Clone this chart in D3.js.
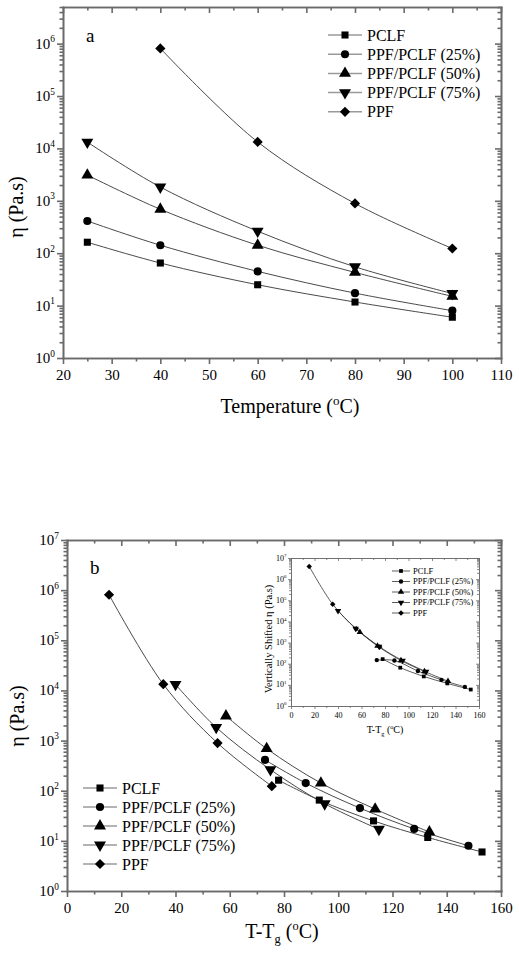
<!DOCTYPE html>
<html><head><meta charset="utf-8">
<script src="https://cdn.jsdelivr.net/npm/d3@7"></script>
<style>
body{margin:0;background:#fff}
svg{display:block}
svg text, svg tspan{font-family:"Times New Roman","Liberation Serif","DejaVu Serif",serif !important;fill:#000}
</style>
</head><body>
<svg id="chart" width="519" height="960" font-family="Liberation Serif"></svg>
<script>
// ---------------- data ----------------
const seriesNames = ["PCLF","PPF/PCLF (25%)","PPF/PCLF (50%)","PPF/PCLF (75%)","PPF"];
const markerTypes = ["square","circle","triangle","triangleDown","diamond"];

// panel a: viscosity vs temperature
const temperature    = [25,40,60,80,100];
const temperaturePPF = [40,60,80,100];
const etaPCLF = [162,65,25,11.7,6.0];
const eta25   = [412,142,45,17.3,8.0];
const eta50   = [3100,690,142,43,15];
const eta75   = [13200,1830,263,55,17];
const etaPPF  = [8.1e5,13300,890,123];

// panel b: viscosity vs T-Tg
const ttgPCLF = [78,93,113,133,153];
const ttg25   = [73,88,108,128,148];
const ttg50   = [58.6,73.6,93.6,113.6,133.6];
const ttg75   = [40,55,75,95,115];
const ttgPPF  = [15.5,35.5,55.5,75.5];

// inset: vertically shifted viscosity vs T-Tg
const shiftPCLF = [165,65,25,11.7,6.0];
const shift25   = [148,142,45,17.3,8.0];
const shift50   = [3100,690,142,43,15];
const shift75   = [32000,4600,650,140,42];
const shiftPPF  = [4.0e6,6.5e4,4.5e3,6.2e2];

// ticks
const tempMajor = [20,30,40,50,60,70,80,90,100,110];
const tempMinor = [25,35,45,55,65,75,85,95,105];
const ttgMajor  = [0,20,40,60,80,100,120,140,160];
const ttgMinor  = [10,30,50,70,90,110,130,150];
const expA = [0,1,2,3,4,5,6];
const expB = [0,1,2,3,4,5,6,7];

// ---------------- drawing ----------------
const FONT = "Liberation Serif";
const svg = d3.select("#chart");
const AX = "#6a6a6a";

function markerPath(type, size){
  if(type==="square") return d3.symbol(d3.symbolSquare, size)();
  if(type==="circle") return d3.symbol(d3.symbolCircle, size)();
  if(type==="diamond") return d3.symbol(d3.symbolSquare, size)();
  return d3.symbol(d3.symbolTriangle, size)();
}
function markerRot(type){
  if(type==="triangleDown") return " rotate(180)";
  if(type==="diamond") return " rotate(45)";
  return "";
}
const markerSizeMain = {square:50, circle:52, triangle:62, triangleDown:62, diamond:52};
const markerSizeInset = {square:14, circle:15, triangle:18, triangleDown:18, diamond:15};

function logMinors(maxExp, topVal){
  const out=[];
  for(let e=0;e<=maxExp;e++) for(let m=2;m<=9;m++){const v=m*Math.pow(10,e); if(v<=topVal) out.push(v);}
  return out;
}
function txt(sel){ return sel.append("text").attr("font-family",FONT).attr("fill","#000"); }

function panel(cfg){
  const g = svg.append("g");
  if(cfg.bg) g.append("rect").attr("x",cfg.left-cfg.bgPadL).attr("y",cfg.top-cfg.bgPadT)
      .attr("width",cfg.right-cfg.left+cfg.bgPadL+cfg.bgPadR).attr("height",cfg.bottom-cfg.top+cfg.bgPadT+cfg.bgPadB)
      .attr("fill","#fff");
  const x = d3.scaleLinear().domain(cfg.xDomain).range([cfg.left,cfg.right]);
  const y = d3.scaleLog().domain(cfg.yDomain).range([cfg.bottom,cfg.top]);
  const yMaj = cfg.exps.map(e=>Math.pow(10,e));
  const yMin = logMinors(cfg.exps[cfg.exps.length-1], cfg.yDomain[1]);

  const line = d3.line().x(d=>x(d[0])).y(d=>y(d[1])).curve(d3.curveCatmullRom.alpha(0.5));
  cfg.series.forEach(s=>{
    const pts = s.x.map((v,j)=>[v,s.y[j]]);
    g.append("path").attr("d",line(pts)).attr("fill","none")
      .attr("stroke",cfg.lineColor).attr("stroke-width",cfg.lineWidth);
  });
  cfg.series.forEach((s,i)=>{
    const t = markerTypes[i];
    g.selectAll(null).data(s.x.map((v,j)=>[v,s.y[j]])).enter().append("path")
      .attr("d",markerPath(t,cfg.msize[t]))
      .attr("transform",d=>`translate(${x(d[0])},${y(d[1])})${markerRot(t)}`)
      .attr("fill","#000");
  });

  const styleAx = sel=>{sel.attr("font-family",FONT);
    sel.selectAll(".domain").attr("stroke",AX).attr("stroke-width",cfg.axW);
    sel.selectAll(".tick line").attr("stroke",AX).attr("stroke-width",cfg.axW);};
  const gb = g.append("g").attr("transform",`translate(0,${cfg.bottom})`)
    .call(d3.axisBottom(x).tickValues(cfg.xMajor).tickSize(cfg.tick).tickSizeOuter(0).tickPadding(cfg.pad).tickFormat(d3.format("d")));
  gb.selectAll("text").attr("font-size",cfg.fs).attr("font-family",FONT).attr("fill","#000");
  styleAx(gb);
  styleAx(g.append("g").attr("transform",`translate(0,${cfg.bottom})`)
    .call(d3.axisBottom(x).tickValues(cfg.xMinor).tickSize(cfg.minor).tickSizeOuter(0).tickFormat("")));
  styleAx(g.append("g").attr("transform",`translate(0,${cfg.top})`)
    .call(d3.axisTop(x).tickValues(cfg.xMajor).tickSize(-cfg.tick).tickSizeOuter(0).tickFormat("")));
  styleAx(g.append("g").attr("transform",`translate(0,${cfg.top})`)
    .call(d3.axisTop(x).tickValues(cfg.xMinor).tickSize(-cfg.minor).tickSizeOuter(0).tickFormat("")));
  styleAx(g.append("g").attr("transform",`translate(${cfg.left},0)`)
    .call(d3.axisLeft(y).tickValues(yMaj).tickSize(cfg.tick).tickSizeOuter(0).tickFormat("")));
  styleAx(g.append("g").attr("transform",`translate(${cfg.left},0)`)
    .call(d3.axisLeft(y).tickValues(yMin).tickSize(cfg.minor).tickSizeOuter(0).tickFormat("")));
  styleAx(g.append("g").attr("transform",`translate(${cfg.right},0)`)
    .call(d3.axisRight(y).tickValues(yMaj).tickSize(-cfg.tick).tickSizeOuter(0).tickFormat("")));
  styleAx(g.append("g").attr("transform",`translate(${cfg.right},0)`)
    .call(d3.axisRight(y).tickValues(yMin).tickSize(-cfg.minor).tickSizeOuter(0).tickFormat("")));
  g.selectAll(".domain").attr("stroke-linecap","square");

  cfg.exps.forEach(e=>{
    const t = txt(g).attr("x",cfg.left-cfg.tick-cfg.ypad).attr("y",y(Math.pow(10,e))+cfg.fs*0.33)
      .attr("text-anchor","end").attr("font-size",cfg.fs);
    t.append("tspan").text("10");
    t.append("tspan").attr("font-size",cfg.fs*0.62).attr("dy",-cfg.fs*0.42).text(e);
  });

  const L = cfg.legend;
  seriesNames.forEach((n,i)=>{
    const yy = L.y + i*L.dy;
    g.append("line").attr("x1",L.x-L.half).attr("x2",L.x+L.half).attr("y1",yy).attr("y2",yy)
      .attr("stroke",L.color).attr("stroke-width",L.lw);
    const t = markerTypes[i];
    g.append("path").attr("d",markerPath(t,cfg.msize[t]))
      .attr("transform",`translate(${L.x},${yy})${markerRot(t)}`).attr("fill","#000");
    txt(g).attr("x",L.tx).attr("y",yy+L.fs*0.35).attr("font-size",L.fs).text(n);
  });
  return {g,x,y};
}

function xLabelTTg(g, cx, cy, fs){
  const t = txt(g).attr("x",cx).attr("y",cy).attr("text-anchor","middle").attr("font-size",fs);
  t.append("tspan").text("T-T");
  t.append("tspan").attr("font-size",fs*0.62).attr("dy",fs*0.25).text("g");
  t.append("tspan").attr("dy",-fs*0.25).text(" (");
  t.append("tspan").attr("font-size",fs*0.62).attr("dy",-fs*0.4).text("o");
  t.append("tspan").attr("dy",fs*0.4).text("C)");
}

// ---- panel a ----
const A = panel({
  left:63,right:501,top:7,bottom:358,
  xDomain:[20,110], yDomain:[1,5e6], exps:expA,
  xMajor:tempMajor, xMinor:tempMinor,
  tick:6, minor:3.5, pad:5, ypad:2, fs:15, axW:1.6,
  lineColor:"#4a4a4a", lineWidth:1, msize:markerSizeMain,
  series:[
    {x:temperature,y:etaPCLF},{x:temperature,y:eta25},{x:temperature,y:eta50},
    {x:temperature,y:eta75},{x:temperaturePPF,y:etaPPF}],
  legend:{x:345,half:17,tx:367,y:35,dy:19.2,fs:16,color:"#9a9a9a",lw:1.5}
});
txt(A.g).attr("x",86).attr("y",42).attr("font-size",19).text("a");
txt(A.g).attr("transform","translate(23,207) rotate(-90)").attr("text-anchor","middle")
  .attr("font-size",20).text("η (Pa.s)");
{
  const t = txt(A.g).attr("x",290).attr("y",413).attr("text-anchor","middle").attr("font-size",20);
  t.append("tspan").text("Temperature (");
  t.append("tspan").attr("font-size",13).attr("dy",-8).text("o");
  t.append("tspan").attr("dy",8).text("C)");
}

// ---- panel b ----
const B = panel({
  left:67,right:501,top:540,bottom:891,
  xDomain:[0,160], yDomain:[1,1e7], exps:expB,
  xMajor:ttgMajor, xMinor:ttgMinor,
  tick:6, minor:3.5, pad:5, ypad:2, fs:15, axW:1.6,
  lineColor:"#4a4a4a", lineWidth:1, msize:markerSizeMain,
  series:[
    {x:ttgPCLF,y:etaPCLF},{x:ttg25,y:eta25},{x:ttg50,y:eta50},
    {x:ttg75,y:eta75},{x:ttgPPF,y:etaPPF}],
  legend:{x:100,half:17,tx:122,y:788,dy:19,fs:16,color:"#9a9a9a",lw:1.5}
});
txt(B.g).attr("x",90).attr("y",574).attr("font-size",19).text("b");
txt(B.g).attr("transform","translate(24,716) rotate(-90)").attr("text-anchor","middle")
  .attr("font-size",20).text("η (Pa.s)");
xLabelTTg(B.g, 282, 938, 20);

// ---- inset ----
const I = panel({
  left:291,right:479,top:558,bottom:706,
  bg:true,bgPadL:40,bgPadR:2,bgPadT:3,bgPadB:30,
  xDomain:[0,160], yDomain:[1,1e7], exps:expB,
  xMajor:ttgMajor, xMinor:ttgMinor,
  tick:3, minor:2, pad:3, ypad:1.5, fs:8, axW:0.8,
  lineColor:"#333", lineWidth:0.8, msize:markerSizeInset,
  series:[
    {x:ttgPCLF,y:shiftPCLF},{x:ttg25,y:shift25},{x:ttg50,y:shift50},
    {x:ttg75,y:shift75},{x:ttgPPF,y:shiftPPF}],
  legend:{x:401,half:9,tx:413,y:571,dy:10.5,fs:8.5,color:"#333",lw:0.8}
});
txt(I.g).attr("transform","translate(272,639) rotate(-90)").attr("text-anchor","middle")
  .attr("font-size",10.5).text("Vertically Shifted η (Pa.s)");
xLabelTTg(I.g, 385, 733, 10);
</script>
</body></html>
